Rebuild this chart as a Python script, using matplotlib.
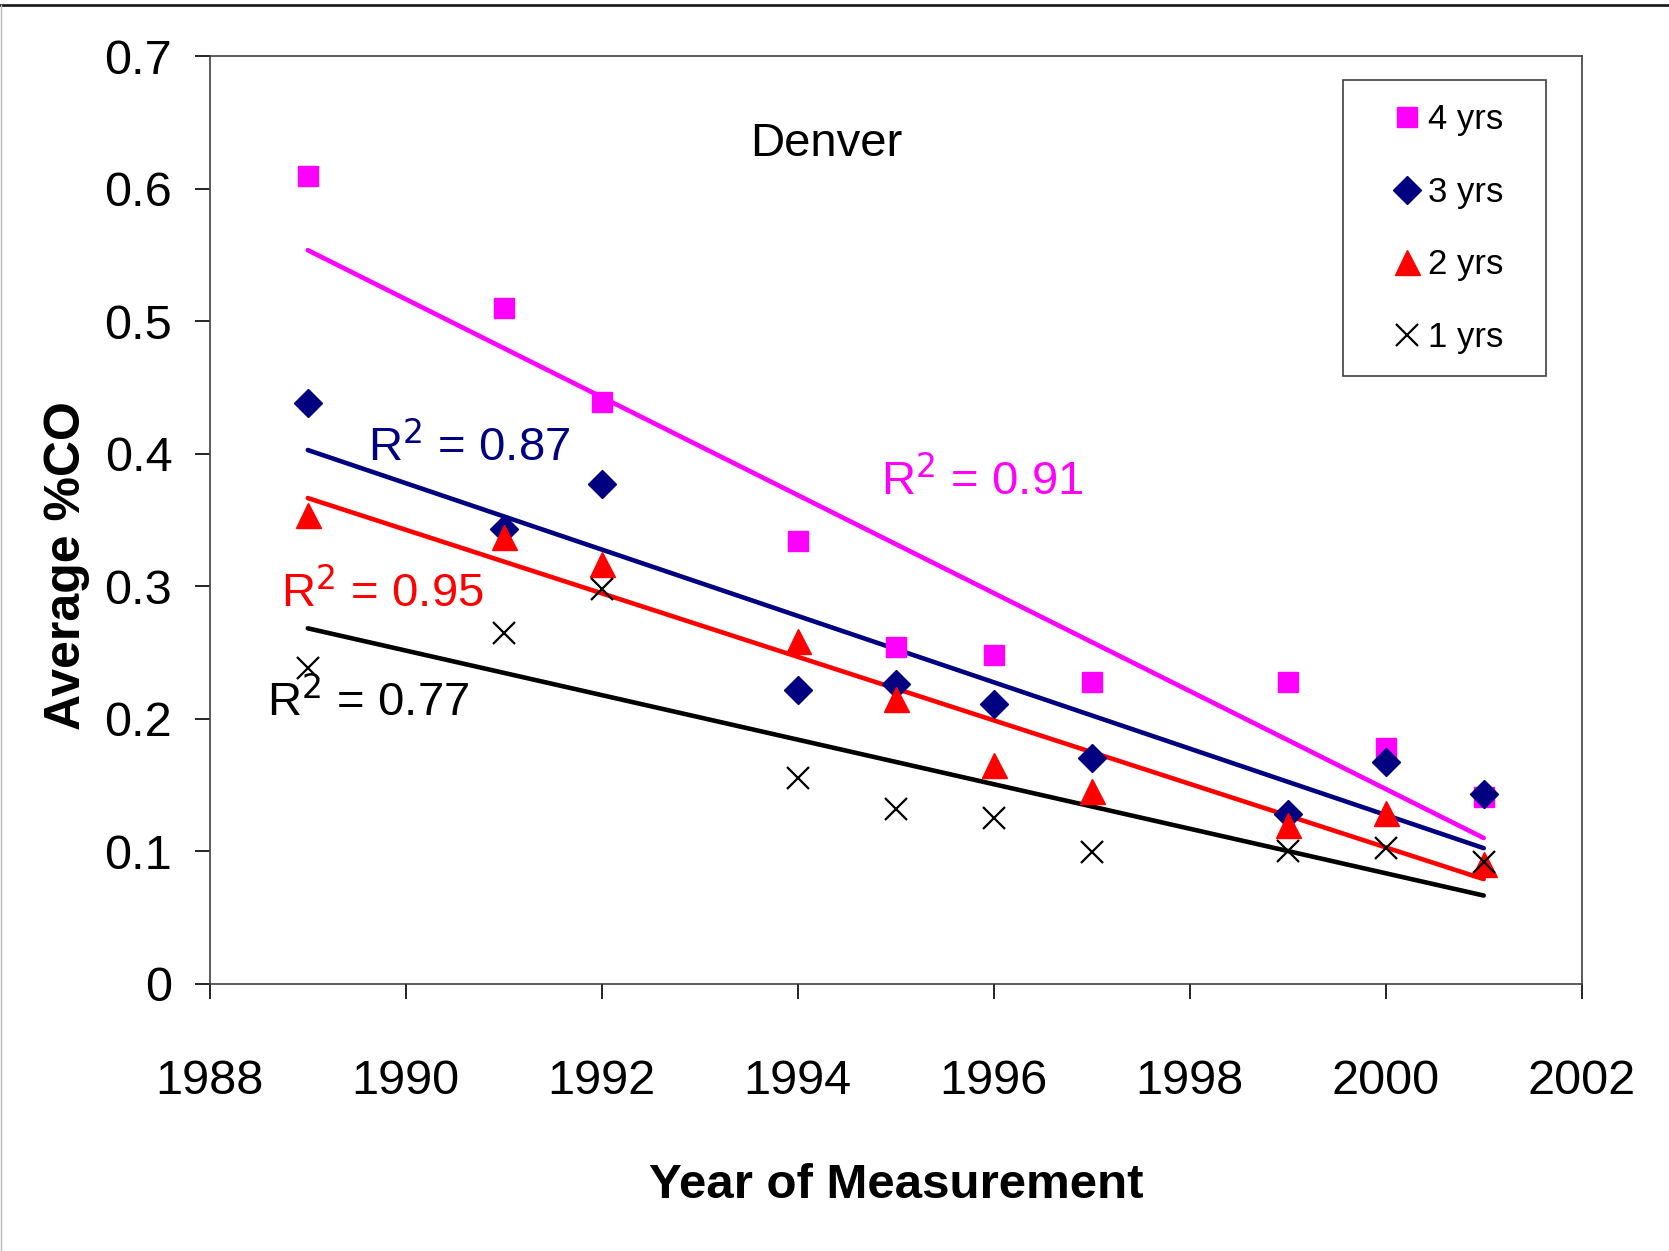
import matplotlib
matplotlib.use("Agg")
import matplotlib.pyplot as plt
import numpy as np
from matplotlib.lines import Line2D
from matplotlib.patches import Rectangle

plt.rcParams['font.family'] = ["Liberation Sans", "DejaVu Sans"]

years = [1989, 1991, 1992, 1994, 1995, 1996, 1997, 1999, 2000, 2001]
co_4yrs = [0.610, 0.510, 0.439, 0.334, 0.254, 0.248, 0.228, 0.228, 0.178, 0.141]
co_3yrs = [0.438, 0.343, 0.377, 0.222, 0.226, 0.211, 0.170, 0.128, 0.167, 0.143]
co_2yrs = [0.354, 0.337, 0.317, 0.259, 0.215, 0.165, 0.145, 0.120, 0.129, 0.090]
co_1yrs = [0.238, 0.265, 0.298, 0.155, 0.132, 0.125, 0.099, 0.100, 0.102, 0.092]
r2_labels = ["0.91", "0.87", "0.95", "0.77"]
series_names = ["4 yrs", "3 yrs", "2 yrs", "1 yrs"]

fig = plt.figure(figsize=(16.69, 12.51), dpi=100)
ax = fig.add_axes([0.1257, 0.2138, 0.8220, 0.7411])

x = np.array(years, dtype=float)
styles = [
    (co_4yrs, "#FF00FF", "s", 15, (1994.85, 0.369)),
    (co_3yrs, "#000080", "D", 14, (1989.61, 0.395)),
    (co_2yrs, "#FF0000", "^", 18, (1988.73, 0.2845)),
    (co_1yrs, "#000000", "x", 16, (1988.58, 0.2025)),
]

handles = []
for (vals, col, mk, ms, lpos), r2, name in zip(styles, r2_labels, series_names):
    y = np.array(vals)
    # linear trend over the measured years
    k, b = np.polyfit(x, y, 1)
    xs = np.array([x.min(), x.max()])
    ax.plot(xs, k * xs + b, color=col, lw=3.3, solid_capstyle='round', zorder=2)
    if mk == "x":
        h, = ax.plot(x, y, ls='none', marker=mk, ms=ms, mec=col, mew=1.6, zorder=3)
    else:
        h, = ax.plot(x, y, ls='none', marker=mk, ms=ms, mfc=col, mec=col, zorder=3)
    handles.append(h)
    ax.text(lpos[0], lpos[1], "R$^2$ = " + r2, color=col, fontsize=34,
            ha='left', va='baseline', zorder=4)

ax.text(1994.29, 0.634, "Denver", fontsize=34, ha='center', va='center')

ax.set_xlim(1988, 2002)
ax.set_ylim(0, 0.7)
ax.set_xticks(range(1988, 2003, 2))
ax.set_yticks(np.arange(0, 0.71, 0.1))
ax.set_yticklabels(["0", "0.1", "0.2", "0.3", "0.4", "0.5", "0.6", "0.7"])
ax.tick_params(axis='both', direction='out', length=11, width=1.2, labelsize=35)
ax.tick_params(axis='y', pad=16)
ax.tick_params(axis='x', pad=43)
for sp in ax.spines.values():
    sp.set_linewidth(1.2)
    sp.set_color("#404040")

ax.set_xlabel("Year of Measurement", fontsize=35.5, fontweight='bold')
ax.xaxis.set_label_coords(0.500, -0.194)
ax.set_ylabel("Average %CO", fontsize=36, fontweight='bold')
ax.yaxis.set_label_coords(-0.087, 0.451)

# legend entries without frame; the box is drawn separately
leg = fig.legend(handles, series_names, loc='upper left', bbox_to_anchor=(0.8328, 0.9174),
                 fontsize=25, frameon=False, handlelength=1.0, handletextpad=0.1,
                 labelspacing=1.14, borderpad=0, borderaxespad=0)
fig.add_artist(Rectangle((0.8047, 0.6994), 0.9263 - 0.8047, 0.9361 - 0.6994,
                         transform=fig.transFigure, fill=False, ec="#404040", lw=1.2))

# page frame lines
fig.add_artist(Line2D([0, 1], [1 - 5 / 1251, 1 - 5 / 1251], color="#202020", lw=2,
                      transform=fig.transFigure))
fig.add_artist(Line2D([0.0008, 0.0008], [0, 1 - 5 / 1251], color="#bbbbbb", lw=1,
                      transform=fig.transFigure))

fig.savefig("out.png", dpi=100)
